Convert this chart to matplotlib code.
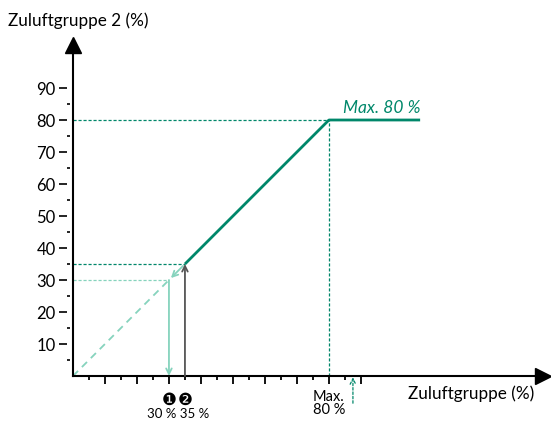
import matplotlib.pyplot as plt

# Kennlinie Zuluftgruppe 2
curve_x = [35, 80, 108.5]
curve_y = [35, 80, 80]
# gestrichelter Anfang der Kennlinie
start_x = [0, 30]
start_y = [0, 30]
y_ticks = [10, 20, 30, 40, 50, 60, 70, 80, 90]
y_minor = [5, 15, 25, 35, 45, 55, 65, 75, 85]
x_ticks = [10, 20, 30, 40, 50, 60, 70, 80, 90]
x_minor = [5, 15, 25, 35, 45, 55, 65, 75, 85]
max_val = 80
p1 = 30   # Punkt 1
p2 = 35   # Punkt 2
extra_arrow = 87.5

green = '#00876a'
light = '#86d3bd'
grey = '#555555'

plt.rcParams['font.family'] = ['Lato', 'DejaVu Sans']

fig = plt.figure(figsize=(5.51, 4.21), dpi=100)
ax = fig.add_axes([0, 0, 1, 1])
ax.set_xlim(-22.8, 149.4)
ax.set_ylim(-14.06, 117.5)

for s in ['top', 'right']:
    ax.spines[s].set_visible(False)
ax.spines['left'].set_position(('data', 0))
ax.spines['bottom'].set_position(('data', 0))
ax.spines['left'].set_bounds(0, 103)
ax.spines['bottom'].set_bounds(0, 146)
ax.spines['left'].set_linewidth(1.5)
ax.spines['bottom'].set_linewidth(1.5)

# y-Achse: Striche mit kleinem Abstand zur Achse
ax.set_yticks(y_ticks)
ax.set_yticklabels([str(v) for v in y_ticks], fontsize=12)
ax.tick_params(axis='y', which='major', length=0, pad=12.5)
ax.hlines(y_ticks, -4.3, -2.0, color='black', lw=1.2)
ax.hlines(y_minor, -1.9, -0.8, color='black', lw=1.2)

ax.set_xticks(x_ticks)
ax.set_xticks(x_minor, minor=True)
ax.set_xticklabels([])
ax.tick_params(axis='x', which='major', length=6, width=1.3)
ax.tick_params(axis='x', which='minor', length=3, width=1.3)

# Achsenpfeile
ax.plot(0, 103.5, marker='^', markersize=11, color='black', clip_on=False)
ax.plot(147, 0, marker='>', markersize=11, color='black', clip_on=False)

# Hilfslinien
ax.plot([0, max_val], [max_val, max_val], color=green, lw=0.9, dashes=(2.5, 1.5))
ax.plot([max_val, max_val], [0, max_val], color=green, lw=0.9, dashes=(2.5, 1.5))
ax.plot([0, p2], [p2, p2], color=green, lw=0.9, dashes=(2.5, 1.5))
ax.plot([0, p1], [p1, p1], color=light, lw=0.9, dashes=(2.5, 1.5))

ax.plot(start_x, start_y, color=light, lw=1.3, dashes=(4, 3))
ax.annotate('', xy=(p1, p1), xytext=(p2, p2),
            arrowprops=dict(arrowstyle='->', color=light, lw=1.3))
ax.annotate('', xy=(p1, 0), xytext=(p1, p1),
            arrowprops=dict(arrowstyle='->', color=light, lw=1.3, shrinkA=0, shrinkB=0))
ax.annotate('', xy=(p2, p2), xytext=(p2, 0),
            arrowprops=dict(arrowstyle='->', color=grey, lw=1.3, shrinkA=0, shrinkB=0))
ax.annotate('', xy=(extra_arrow, -0.4), xytext=(extra_arrow, -8.5),
            arrowprops=dict(arrowstyle='->', color=green, lw=0.9, ls=(0, (2, 1.5)),
                            shrinkA=0, shrinkB=0))

ax.plot(curve_x, curve_y, color=green, lw=2, solid_capstyle='butt')

ax.text(108.5, 83.7, 'Max. 80 %', color=green, fontsize=12.5, style='italic',
        ha='right', va='center')
ax.text(-20.3, 110.9, 'Zuluftgruppe 2 (%)', fontsize=12.3, ha='left', va='center')
ax.text(104.7, -5.6, 'Zuluftgruppe (%)', fontsize=12.3, ha='left', va='center')
ax.text(75, -8.6, 'Max.\n80 %', fontsize=10.5, ha='left', va='center', linespacing=0.95)
ax.text(p1, -7.4, '\u2776', fontsize=12, ha='center', va='center', family='DejaVu Sans')
ax.text(p2, -7.4, '\u2777', fontsize=12, ha='center', va='center', family='DejaVu Sans')
ax.text(32.8, -11.9, '30 % 35 %', fontsize=9.5, ha='center', va='center')

fig.savefig('out.png', dpi=100)
